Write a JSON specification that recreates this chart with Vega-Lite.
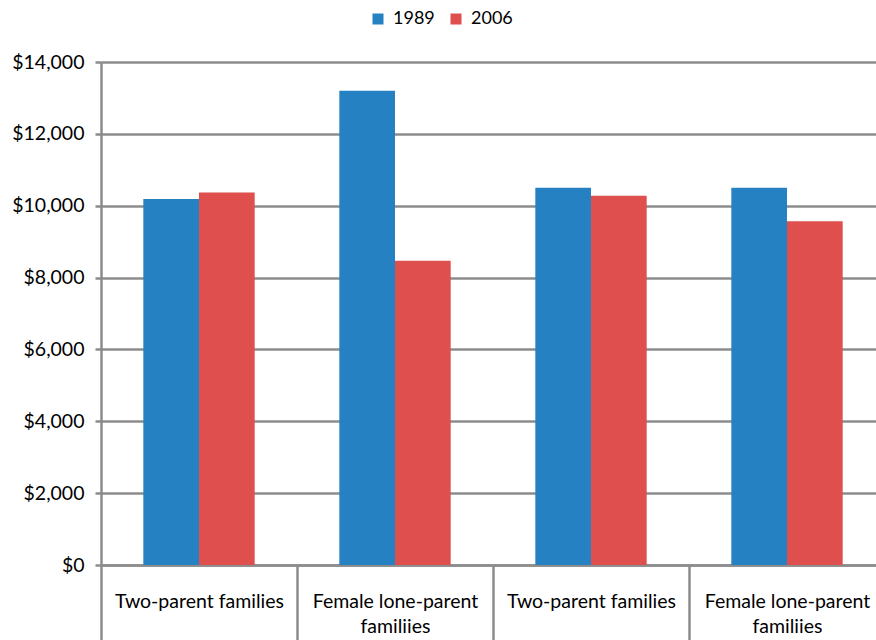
{
  "$schema": "https://vega.github.io/schema/vega-lite/v6.json",
  "width": 775,
  "height": 503,
  "autosize": {"type": "none"},
  "padding": {"left": 101, "top": 62, "right": 0, "bottom": 75},
  "background": "white",
  "config": {"view": {"stroke": null}, "font": "Lato"},
  "data": {
    "values": [
      {"group": "1", "year": "1989", "value": 10190},
      {"group": "1", "year": "2006", "value": 10370},
      {"group": "2", "year": "1989", "value": 13200},
      {"group": "2", "year": "2006", "value": 8470},
      {"group": "3", "year": "1989", "value": 10500},
      {"group": "3", "year": "2006", "value": 10280},
      {"group": "4", "year": "1989", "value": 10500},
      {"group": "4", "year": "2006", "value": 9570}
    ]
  },
  "mark": {"type": "bar"},
  "encoding": {
    "x": {
      "field": "group",
      "type": "nominal",
      "scale": {"range": [0, 784], "paddingInner": 0, "paddingOuter": 0},
      "axis": {
        "title": null,
        "labelAngle": 0,
        "tickBand": "extent",
        "tickSize": 75,
        "tickWidth": 2.5,
        "tickColor": "#8c8c8c",
        "domainColor": "#8c8c8c",
        "domainWidth": 2.5,
        "labelPadding": -48,
        "labelBaseline": "top",
        "labelFontSize": 19.5,
        "labelColor": "#000000",
        "labelLineHeight": 25,
        "labelLimit": 0,
        "labelExpr": "(datum.value == '1' || datum.value == '3') ? 'Two-parent families' : ((datum.value == '2' || datum.value == '4') ? ['Female lone-parent', 'familiies'] : '')"
      }
    },
    "xOffset": {
      "field": "year",
      "type": "nominal",
      "scale": {"paddingInner": 0, "paddingOuter": 0.76}
    },
    "y": {
      "field": "value",
      "type": "quantitative",
      "scale": {"domain": [0, 14000], "nice": false},
      "axis": {
        "title": null,
        "values": [0, 2000, 4000, 6000, 8000, 10000, 12000, 14000],
        "format": "$,.0f",
        "grid": true,
        "gridColor": "#8c8c8c",
        "gridWidth": 2.5,
        "domainColor": "#8c8c8c",
        "domainWidth": 2.5,
        "tickColor": "#8c8c8c",
        "tickWidth": 2.5,
        "tickSize": 6,
        "labelPadding": 11,
        "labelFontSize": 19.5,
        "labelColor": "#000000"
      }
    },
    "color": {
      "field": "year",
      "type": "nominal",
      "scale": {"domain": ["1989", "2006"], "range": ["#2581c1", "#de4f4d"]},
      "legend": {
        "title": null,
        "orient": "none",
        "direction": "horizontal",
        "legendX": 268,
        "legendY": -52,
        "symbolType": "square",
        "symbolSize": 121,
        "symbolStrokeWidth": 0,
        "labelFontSize": 18,
        "labelColor": "#000000",
        "labelOffset": 6,
        "columnPadding": 12
      }
    }
  }
}
